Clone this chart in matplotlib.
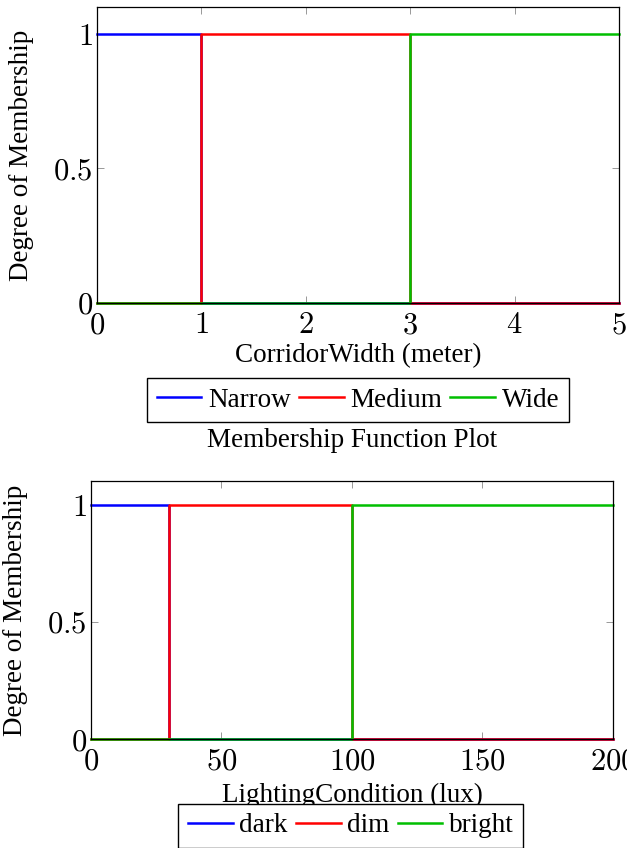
import numpy as np
import matplotlib.pyplot as plt

plt.rcParams['font.family'] = ['Liberation Serif', 'DejaVu Serif']
plt.rcParams['mathtext.fontset'] = 'cm'

# corridor width membership (step functions)
width_x = [0, 1, 1, 3, 3, 5]
narrow = [1, 1, 0, 0, 0, 0]
medium = [0, 0, 1, 1, 0, 0]
wide = [0, 0, 0, 0, 1, 1]
width_ticks = [0, 1, 2, 3, 4, 5]

# lighting condition membership
light_x = [0, 30, 30, 100, 100, 200]
dark = [1, 1, 0, 0, 0, 0]
dim = [0, 0, 1, 1, 0, 0]
bright = [0, 0, 0, 0, 1, 1]
light_ticks = [0, 50, 100, 150, 200]

y_ticks = [0, 0.5, 1]
colors = ['#0000ff', '#ff0000', '#00bf00']

fig = plt.figure(figsize=(6.27, 8.48), dpi=100)
ax1 = fig.add_axes([0.1547, 0.6427, 0.8325, 0.349])
ax2 = fig.add_axes([0.1451, 0.1285, 0.8325, 0.3042])

FS = 19.5


def style(ax, xticks, xmax):
    ax.set_xlim(0, xmax)
    ax.set_ylim(0, 1.1)
    ax.set_xticks(xticks)
    ax.set_xticklabels([f'${t:g}$' for t in xticks])
    ax.set_yticks(y_ticks)
    ax.set_yticklabels([f'${t:g}$' for t in y_ticks])
    ax.tick_params(direction='in', top=True, right=True, length=5,
                   width=0.6, color='#888888', labelsize=22)
    ax.tick_params(axis='x', pad=6)
    ax.tick_params(axis='y', pad=3)
    for s in ax.spines.values():
        s.set_linewidth(0.9)
    ax.set_ylabel('Degree of Membership', fontsize=FS, va='center')
    ax.yaxis.set_label_coords(-0.1437, 0.5)


def legend(ax, x, y):
    ax.legend(loc='center', bbox_to_anchor=(x, y), ncol=3, fontsize=FS,
              frameon=True, fancybox=False, edgecolor='black', handlelength=1.65,
              handletextpad=0.25, columnspacing=0.3, borderpad=0.35,
              borderaxespad=0, framealpha=1)


for ys, lab, c in zip([narrow, medium, wide], ['Narrow', 'Medium', 'Wide'], colors):
    ax1.plot(width_x, ys, color=c, lw=1.8, label=lab, clip_on=False)
style(ax1, width_ticks, 5)
ax1.set_xlabel('CorridorWidth (meter)', fontsize=FS, va='center')
ax1.xaxis.set_label_coords(0.5, -0.179)
legend(ax1, 0.5, -0.328)

for ys, lab, c in zip([dark, dim, bright], ['dark', 'dim', 'bright'], colors):
    ax2.plot(light_x, ys, color=c, lw=1.8, label=lab, clip_on=False)
style(ax2, light_ticks, 200)
ax2.set_xlabel('LightingCondition (lux)', fontsize=FS, va='center')
ax2.xaxis.set_label_coords(0.5, -0.217)
ax2.text(0.5, 1.159, 'Membership Function Plot', fontsize=FS, ha='center',
         va='center', transform=ax2.transAxes)
legend(ax2, 0.498, -0.337)

fig.savefig('out.png', dpi=100)
